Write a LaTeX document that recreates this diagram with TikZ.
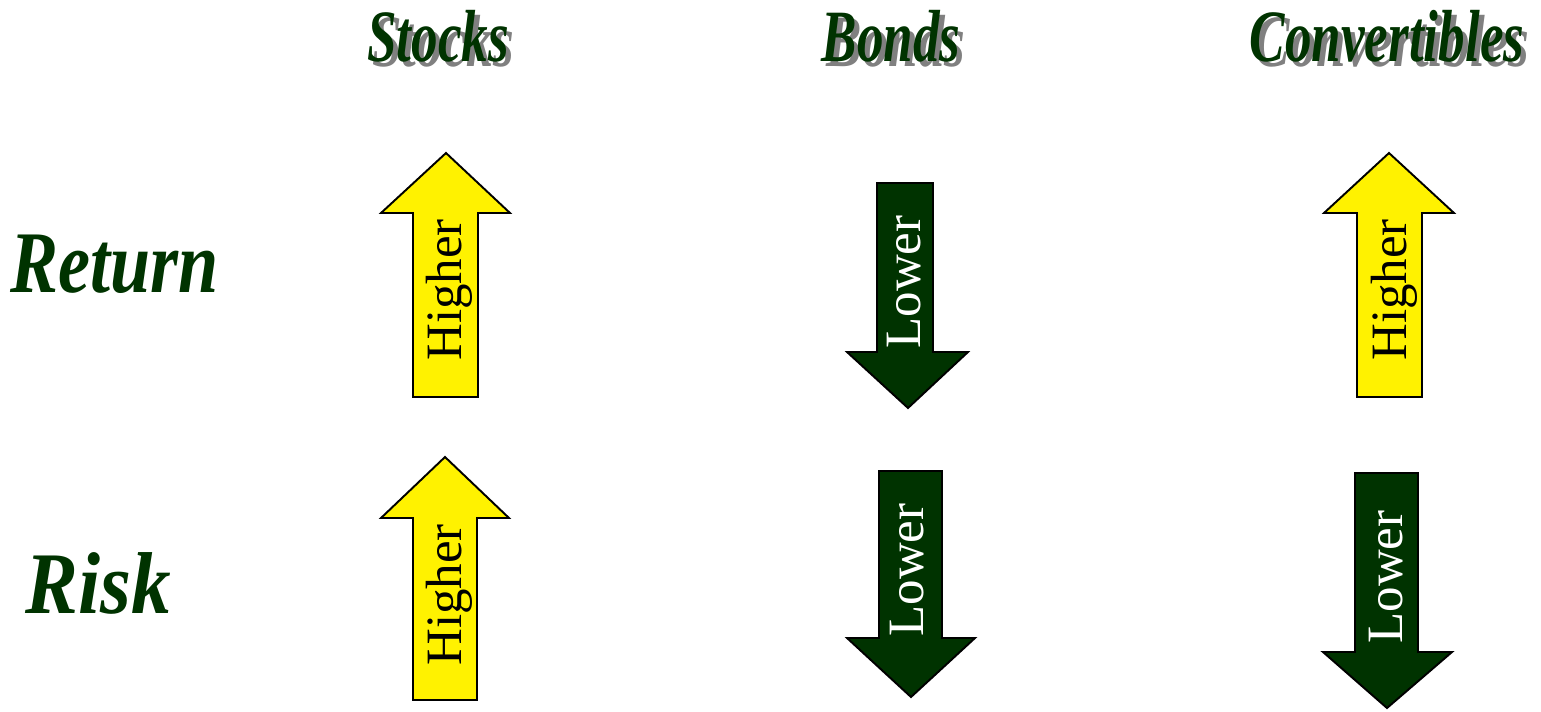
\documentclass[tikz,border=0pt]{standalone}
\usepackage{fontspec}
\setmainfont{Liberation Serif}
\definecolor{darkgreen}{RGB}{0,51,0}
\definecolor{shadowgray}{RGB}{128,128,128}
% header text with a grey drop shadow behind it
\newcommand\shadowed[1]{\makebox[0pt][l]{\hspace{0.14cm}\raisebox{-0.1cm}{\textcolor{shadowgray}{#1}}}#1}
\begin{document}
\begin{tikzpicture}[x=0.02cm, y=-0.02cm]
  \tikzset{
    uparrow/.style={draw=black, fill=yellow, line width=1.1pt},
    downarrow/.style={draw=black, fill=darkgreen, line width=1.1pt},
    header/.style={font=\fontsize{42}{48}\selectfont\bfseries\itshape, text=darkgreen, xscale=0.72, inner sep=0pt, anchor=base},
    rowlabel/.style={font=\fontsize{50}{56}\selectfont\bfseries\itshape, text=darkgreen, xscale=0.82, inner sep=0pt, anchor=base west},
    highertext/.style={font=\fontsize{29}{33}\selectfont, text=black, rotate=90, inner sep=0pt, anchor=base},
    lowertext/.style={highertext, text=white}
  }
  \useasboundingbox (0,0) rectangle (1541,711);

  % column headers
  \node[header] (stocks) at (438,61) {\shadowed{Stocks}};
  \node[header] (bonds) at (891,61) {\shadowed{Bonds}};
  \node[header] (conv) at (1387,61) {\shadowed{Convertibles}};

  % row labels
  \node[rowlabel] (return) at (10,292) {Return};
  \node[rowlabel, xscale=1.1] (risk) at (25,613) {Risk};

  % arrows
  \draw[uparrow] (413,397) -- (413,213) -- (381,213) -- (446,153) -- (510,213) -- (478,213) -- (478,397) -- cycle;
  \draw[uparrow] (413,700) -- (413,518) -- (381,518) -- (445,457) -- (509,518) -- (477,518) -- (477,700) -- cycle;
  \draw[uparrow] (1357,397) -- (1357,213) -- (1324,213) -- (1389,153) -- (1454,213) -- (1422,213) -- (1422,397) -- cycle;
  \draw[downarrow] (877,183) -- (933,183) -- (933,352) -- (968,352) -- (908,408) -- (847,352) -- (877,352) -- cycle;
  \draw[downarrow] (879,471) -- (942,471) -- (942,638) -- (975,638) -- (911,697) -- (847,638) -- (879,638) -- cycle;
  \draw[downarrow] (1355,473) -- (1418,473) -- (1418,652) -- (1452,652) -- (1387,708) -- (1323,652) -- (1355,652) -- cycle;

  % arrow labels
  \node[highertext] (stocksreturn) at (461,290) {Higher};
  \node[highertext] (stocksrisk) at (461,595) {Higher};
  \node[highertext] (convreturn) at (1406,290) {Higher};
  \node[lowertext] (bondsreturn) at (920,282) {Lower};
  \node[lowertext] (bondsrisk) at (923,570) {Lower};
  \node[lowertext] (convrisk) at (1402,577) {Lower};
\end{tikzpicture}
\end{document}
